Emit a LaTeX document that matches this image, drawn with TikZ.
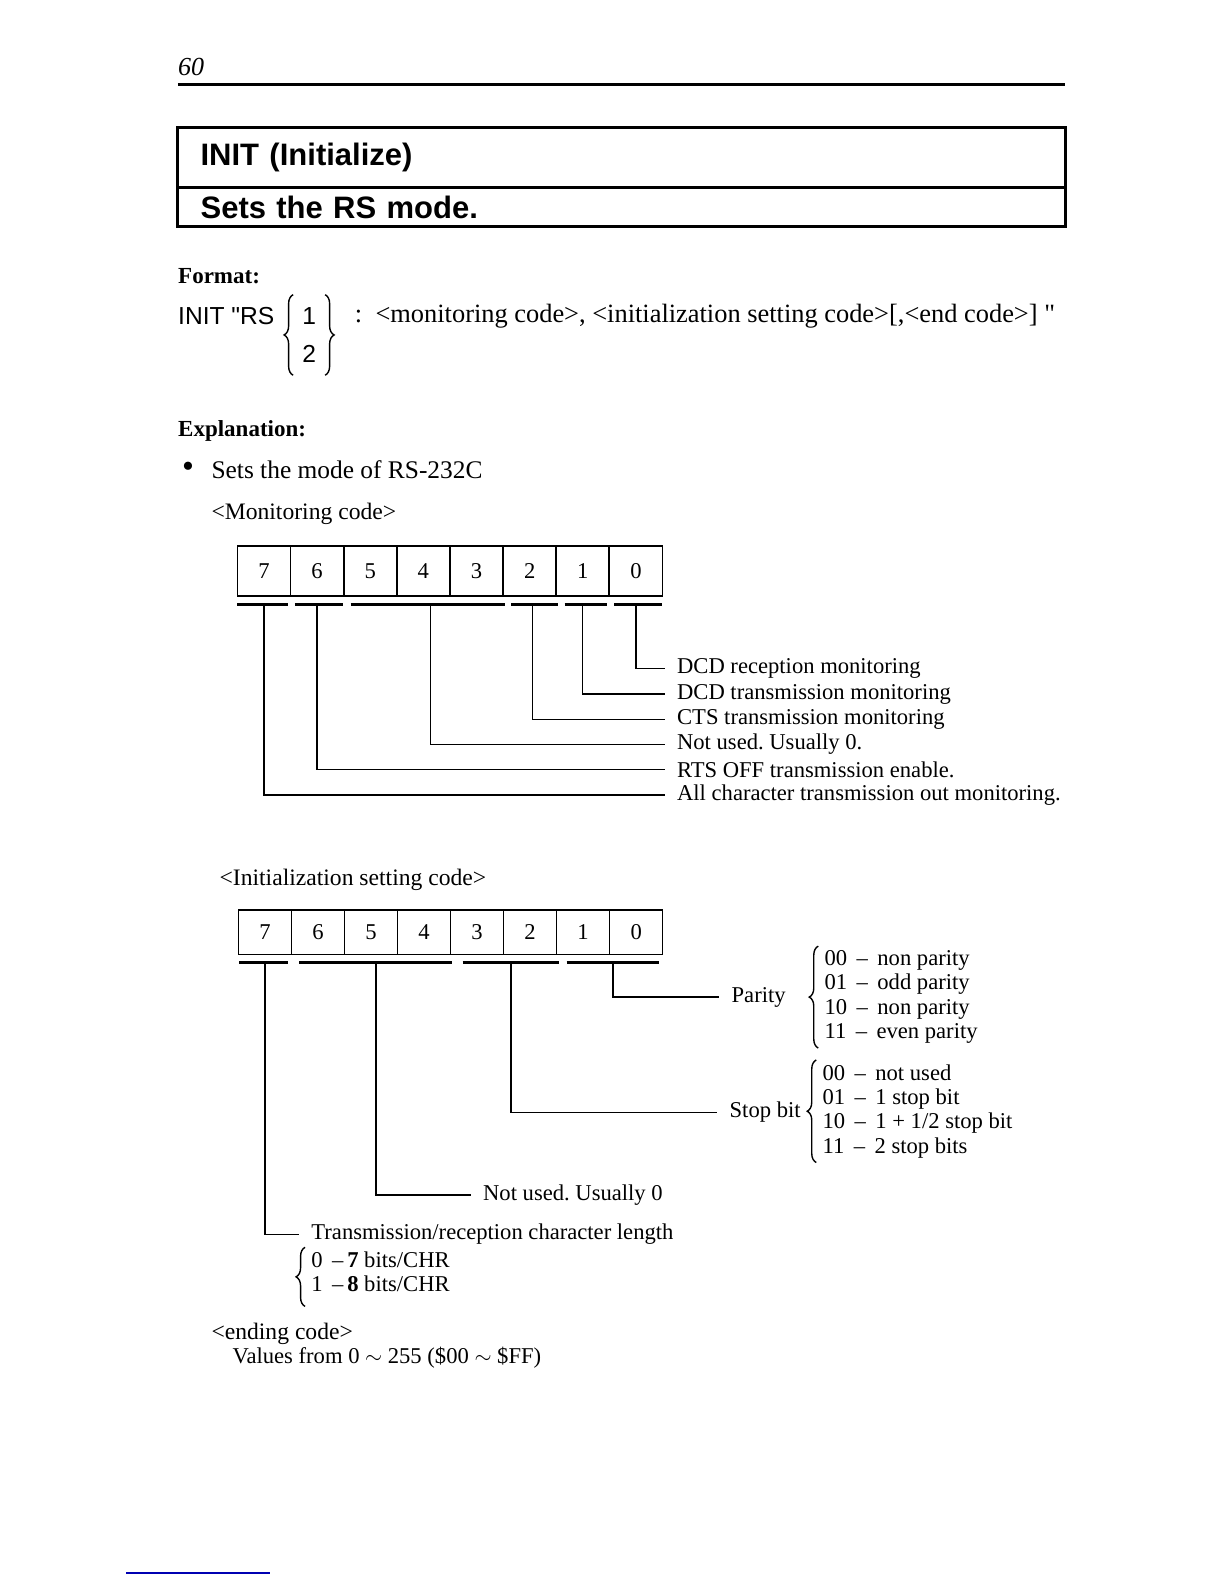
\documentclass[tikz,border=0pt]{standalone}
\usepackage{fontspec}
\setmainfont{Liberation Serif}[Ligatures=TeXOff]
\setsansfont{Liberation Sans}[Ligatures=TeXOff]
\usetikzlibrary{positioning,calc,decorations.pathreplacing}
\newcommand{\txtsize}{\fontsize{11.3}{12.2}\selectfont}
\tikzset{
  bitcell/.style={draw,line width=0.8pt,minimum width=26.5pt,minimum height=25pt,inner sep=0pt,font=\txtsize},
  bitbar/.style={line width=1.6pt},
  leadline/.style={line width=0.7pt},
  fieldlabel/.style={anchor=west,inner xsep=6pt,inner ysep=1pt,font=\txtsize},
  choicelist/.style={anchor=west,align=left,inner xsep=3pt,inner ysep=2pt,font=\txtsize},
  choicebrace/.style={decorate,decoration={brace,amplitude=4.5pt},line width=0.7pt},
  headtext/.style={anchor=west,inner sep=0pt,font=\bfseries\fontsize{11.5}{13}\selectfont},
  bodytext/.style={anchor=west,inner sep=0pt,font=\txtsize},
  titlecell/.style={draw,line width=0.8pt,anchor=north west,text width=421pt,align=left,
    inner xsep=11pt,inner ysep=0pt,font=\sffamily\bfseries\fontsize{15.5}{18}\selectfont}
}
\frenchspacing

\begin{document}
\begin{tikzpicture}[x=0.505pt,y=-0.505pt]
  \useasboundingbox (0,0) rectangle (1212,1568);
  % page head
  \node[bodytext,font=\itshape\fontsize{13}{15}\selectfont] (page) at (176,66) {60};
  \draw[line width=1.6pt] (176,84) -- (1054,84);
  \node[titlecell,minimum height=29.3pt] (title) at (176,126) {INIT (Initialize)};
  \node[titlecell,minimum height=18.7pt,below=0pt of title] (subtitle) {Sets the RS mode.};
  \draw[line width=1.4pt] (title.north west) rectangle (subtitle.south east);

  % format
  \node[headtext] (fmthead) at (176,273) {Format:};
  \node[bodytext,font=\sffamily\fontsize{12.3}{14}\selectfont] (fmtinit) at (176,313) {INIT "RS};
  \node[font=\sffamily\fontsize{12.3}{14}\selectfont] (one) at (306,313) {1};
  \node[font=\sffamily\fontsize{12.3}{14}\selectfont] (two) at (306,350) {2};
  \draw[choicebrace] ([xshift=-8pt,yshift=-3pt]two.south) -- ([xshift=-8pt,yshift=3pt]one.north);
  \draw[choicebrace] ([xshift=8pt,yshift=3pt]one.north) -- ([xshift=8pt,yshift=-3pt]two.south);
  \node[bodytext,font=\fontsize{13.2}{15}\selectfont] (fmtargs) at (351,313) {:\ \ <monitoring code>, <initialization setting code>[,<end code>] "};

  % explanation
  \node[headtext] (exphead) at (176,427) {Explanation:};
  \node[bodytext,font=\fontsize{17}{17}\selectfont] (bullet) at (180,465) {•};
  \node[bodytext,font=\fontsize{12.7}{14}\selectfont] (expline) at (209,465) {Sets the mode of RS-232C};

  % monitoring code
  \node[bodytext,font=\fontsize{11.8}{13}\selectfont] (monhead) at (209,509) {<Monitoring code>};
  \foreach \b [count=\i from 0] in {7,6,...,0}
    \node[bitcell] (m\b) at ({235+(\i+0.5)*52.6},565) {\b};
  \foreach \a/\z in {235/285,292/340,347/500,506/552,559/601,608/655}
    \draw[bitbar] (\a,598) -- (\z,598);
  \foreach \b/\y/\dx/\txt in {0/662/0/DCD reception monitoring,1/687/0/DCD transmission monitoring,
      2/712/1.5/CTS transmission monitoring,4/737/3.5/Not used. Usually 0.,
      6/762/0/RTS OFF transmission enable.,7/787/0/All character transmission out monitoring.}{
    \node[fieldlabel] (lab\b) at (658,\y) {\txt};
    \draw[leadline] ([xshift=\dx pt,yshift=-4pt]m\b.south) |- (lab\b.west);
  }

  % initialization setting code
  \node[bodytext,font=\fontsize{11.8}{13}\selectfont] (inihead) at (217,871) {<Initialization setting code>};
  \foreach \b [count=\i from 0] in {7,6,...,0}
    \node[bitcell,minimum height=22.2pt] (s\b) at ({236+(\i+0.5)*52.5},923) {\b};
  \foreach \a/\z in {237/285,296/447,458/553,561/652}
    \draw[bitbar] (\a,953) -- (\z,953);

  \node[fieldlabel] (parity) at (712,987) {Parity};
  \node[choicelist] (parlist) at (810,987) {00 \,–\, non parity\\01 \,–\, odd parity\\10 \,–\, non parity\\11 \,–\, even parity};
  \draw[choicebrace] (parlist.south west) -- (parlist.north west);
  \node[fieldlabel] (stopbit) at (710,1101) {Stop bit};
  \node[choicelist] (stoplist) at (808,1100) {00 \,–\, not used\\01 \,–\, 1 stop bit\\10 \,–\, 1 + 1/2 stop bit\\11 \,–\, 2 stop bits};
  \draw[choicebrace] (stoplist.south west) -- (stoplist.north west);
  \node[fieldlabel] (notused) at (466,1183) {Not used. Usually 0};
  \node[fieldlabel] (lenhead) at (296,1222) {Transmission/reception character length};
  \node[choicelist] (lenlist) at (302,1259) {0 \,–\,{\bfseries 7} bits/CHR\\1 \,–\,{\bfseries 8} bits/CHR};
  \draw[choicebrace] ([yshift=-5pt]lenlist.south west) -- (lenlist.north west);

  \draw[leadline] ([xshift=2pt,yshift=-4pt]s0.south west) |- (parity.west);
  \draw[leadline] ([xshift=4pt,yshift=-4pt]s2.south west) |- (stopbit.west);
  \draw[leadline] ([xshift=2.5pt,yshift=-4pt]s5.south) |- (notused.west);
  \draw[leadline] ([yshift=-4pt]s7.south) |- (lenhead.west);

  % ending code
  \node[bodytext,font=\fontsize{11.8}{13}\selectfont] (endhead) at (209,1320) {<ending code>};
  \node[bodytext] (endvals) at (230,1344) {Values from 0 $\sim$ 255 (\$00 $\sim$ \$FF)};

  \draw[blue!70!black,line width=0.8pt] (125,1557) -- (267,1557);
\end{tikzpicture}
\end{document}
